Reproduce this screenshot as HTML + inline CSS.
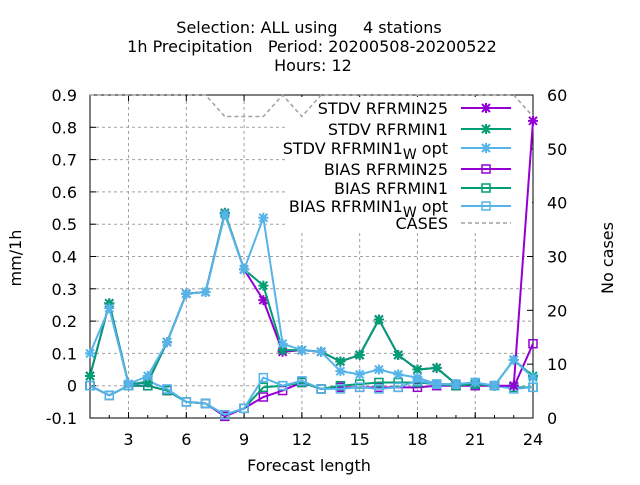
<!DOCTYPE html>
<html><head><meta charset="utf-8"><style>
body{margin:0;background:#fff}
svg{font-family:"DejaVu Sans","Liberation Sans",sans-serif;font-size:16px}
</style></head><body>
<svg id="c" width="640" height="480" xmlns="http://www.w3.org/2000/svg">
<rect width="640" height="480" fill="#fff"/>
<g id="title" text-anchor="middle" fill="#000">
<text x="309" y="33" xml:space="preserve">Selection: ALL using     4 stations</text>
<text x="312" y="52" xml:space="preserve">1h Precipitation   Period: 20200508-20200522</text>
<text x="313" y="71">Hours:  12</text>
</g>
<g id="grid"></g>
<g id="axes"></g>
<g id="legend"></g>
<g id="series"></g>
<text x="309" y="471" text-anchor="middle">Forecast length</text>
<text transform="translate(21,258) rotate(-90)" text-anchor="middle">mm/1h</text>
<text transform="translate(613,258) rotate(-90)" text-anchor="middle">No cases</text>
</svg>
<script>
const hours=[1,2,3,4,5,6,7,8,9,10,11,12,13,14,15,16,17,18,19,20,21,22,23,24];
const stdv25=[0.03,0.255,0.005,0.01,0.135,0.285,0.29,0.535,0.36,0.265,0.105,0.11,0.105,0.075,0.095,0.205,0.095,0.05,0.055,0.005,0.005,0.0,0.0,0.82];
const stdv1=[0.03,0.255,0.005,0.01,0.135,0.285,0.29,0.535,0.36,0.31,0.11,0.11,0.105,0.075,0.095,0.205,0.095,0.05,0.055,0.005,0.005,0.0,0.08,0.03];
const stdvW=[0.1,0.24,0.005,0.03,0.135,0.285,0.29,0.53,0.36,0.52,0.13,0.11,0.105,0.045,0.035,0.05,0.035,0.025,0.005,0.005,0.01,0.0,0.08,0.025];
const bias25=[0.0,-0.03,0.0,0.0,-0.015,-0.05,-0.055,-0.095,-0.07,-0.035,-0.015,0.01,-0.01,-0.005,-0.005,-0.005,-0.005,-0.005,0.0,0.0,0.0,0.0,-0.005,0.13];
const bias1=[0.0,-0.03,0.0,0.0,-0.015,-0.05,-0.055,-0.09,-0.07,-0.005,0.0,0.01,-0.01,0.0,0.005,0.01,0.01,0.01,0.005,0.0,0.005,0.0,-0.005,-0.005];
const biasW=[0.0,-0.03,0.0,0.015,-0.01,-0.05,-0.055,-0.09,-0.07,0.025,0.0,0.015,-0.01,-0.01,-0.005,-0.01,-0.005,0.015,0.005,0.005,0.01,0.0,-0.01,-0.005];
const cases=[60,60,60,60,60,60,60,56,56,56,60,56,60,60,60,60,60,60,60,60,60,60,60,56];
const xTicks=[3,6,9,12,15,18,21,24];
const yTicks=[-0.1,0,0.1,0.2,0.3,0.4,0.5,0.6,0.7,0.8,0.9];
const y2Ticks=[0,10,20,30,40,50,60];

const L=90,R=533,T=95,B=418;
const xs=h=>L+(h-1)*(R-L)/23;
const ys=v=>B-(v+0.1)*(B-T)/1.0;
const y2s=v=>B-v*(B-T)/60;
const NS="http://www.w3.org/2000/svg";
function mk(tag,parent,attrs){const e=document.createElementNS(NS,tag);for(const k in attrs)e.setAttribute(k,attrs[k]);parent.appendChild(e);return e;}
const grid=document.getElementById('grid'),axes=document.getElementById('axes'),leg=document.getElementById('legend'),ser=document.getElementById('series');

xTicks.forEach(t=>{
 const g=mk('line',grid,{x1:xs(t),x2:xs(t),y1:T,y2:B,stroke:'#a0a0a0','stroke-dasharray':'3,3'});
 
 
 const tx=mk('text',axes,{x:xs(t),y:B+27,'text-anchor':'middle'});tx.textContent=t;
 
 
 mk('line',axes,{x1:xs(t),x2:xs(t),y1:B,y2:B-6,stroke:'#000'});
 mk('line',axes,{x1:xs(t),x2:xs(t),y1:T,y2:T+6,stroke:'#000'});
});
for(let h=1;h<=24;h++){mk('line',axes,{x1:xs(h),x2:xs(h),y1:B,y2:B-3,stroke:'#000'});}
yTicks.forEach(t=>{
 const g=mk('line',grid,{x1:L,x2:R,y1:ys(t),y2:ys(t),stroke:'#a0a0a0','stroke-dasharray':'3,3'});
 
 
 const tx=mk('text',axes,{x:L-13,y:ys(t)+6,'text-anchor':'end'});tx.textContent=(Math.round(t*10)/10).toString();
 
 
 mk('line',axes,{x1:L,x2:L+6,y1:ys(t),y2:ys(t),stroke:'#000'});
});
y2Ticks.forEach(t=>{
 const tx=mk('text',axes,{x:R+14,y:y2s(t)+6});tx.textContent=t;
 
 
 mk('line',axes,{x1:R,x2:R-6,y1:y2s(t),y2:y2s(t),stroke:'#000'});
});
const fr=mk('rect',axes,{x:L,y:T,width:R-L,height:B-T,fill:'none',stroke:'#000'});



mk('rect',leg,{x:285,y:97,width:247,height:135,fill:'#fff'});
const items=[['STDV RFRMIN25','#9400d3','x',108],['STDV RFRMIN1','#009e73','x',129],['STDV RFRMIN1','#56b4e9','x',148,true],['BIAS RFRMIN25','#9400d3','s',169],['BIAS RFRMIN1','#009e73','s',188],['BIAS RFRMIN1','#56b4e9','s',206,true],['CASES','#a0a0a0','d',223]];
function marker(p,type,x,y,c){
 if(type==='x'){mk('path',p,{d:`M${x-4},${y-4}L${x+4},${y+4}M${x-4},${y+4}L${x+4},${y-4}M${x-5},${y}L${x+5},${y}M${x},${y-5}L${x},${y+5}`,stroke:c,'stroke-width':2});}
 else if(type==='s'){mk('rect',p,{x:x-4,y:y-4,width:8,height:8,fill:'none',stroke:c,'stroke-width':1.5});}
}
items.forEach(it=>{
 const g=mk('g',leg,{});
 
 
 const tx=mk('text',g,{x:448,y:it[3]+6,'text-anchor':'end'});
 if(it[4]){const p=it[0].startsWith('BIAS')?'BIAS':'STDV';tx.innerHTML=p+' RFRMIN1<tspan dy="5" font-size="14">W</tspan><tspan dy="-5"> opt</tspan>';}
 else tx.textContent=it[0];
 if(it[2]==='d')mk('line',g,{x1:461,x2:511,y1:it[3],y2:it[3],stroke:it[1],'stroke-width':1.5,'stroke-dasharray':'4,3'});
 else{mk('line',g,{x1:461,x2:511,y1:it[3],y2:it[3],stroke:it[1],'stroke-width':2});marker(g,it[2],486,it[3],it[1]);}
});

const cg=mk('polyline',ser,{points:hours.map((h,i)=>xs(h)+','+y2s(cases[i])).join(' '),fill:'none',stroke:'#a0a0a0','stroke-width':1.5,'stroke-dasharray':'4,3'});


const series=[[bias25,'#9400d3','s','bias-rfrmin25'],[bias1,'#009e73','s','bias-rfrmin1'],[biasW,'#56b4e9','s','bias-rfrmin1w-opt'],[stdv25,'#9400d3','x','stdv-rfrmin25'],[stdv1,'#009e73','x','stdv-rfrmin1'],[stdvW,'#56b4e9','x','stdv-rfrmin1w-opt']];
series.forEach(s=>{
 const g=mk('g',ser,{});
 
 
 mk('polyline',g,{points:hours.map((h,i)=>xs(h)+','+ys(s[0][i])).join(' '),fill:'none',stroke:s[1],'stroke-width':2});
 hours.forEach((h,i)=>marker(g,s[2],xs(h),ys(s[0][i]),s[1]));
});
</script>
</body></html>
